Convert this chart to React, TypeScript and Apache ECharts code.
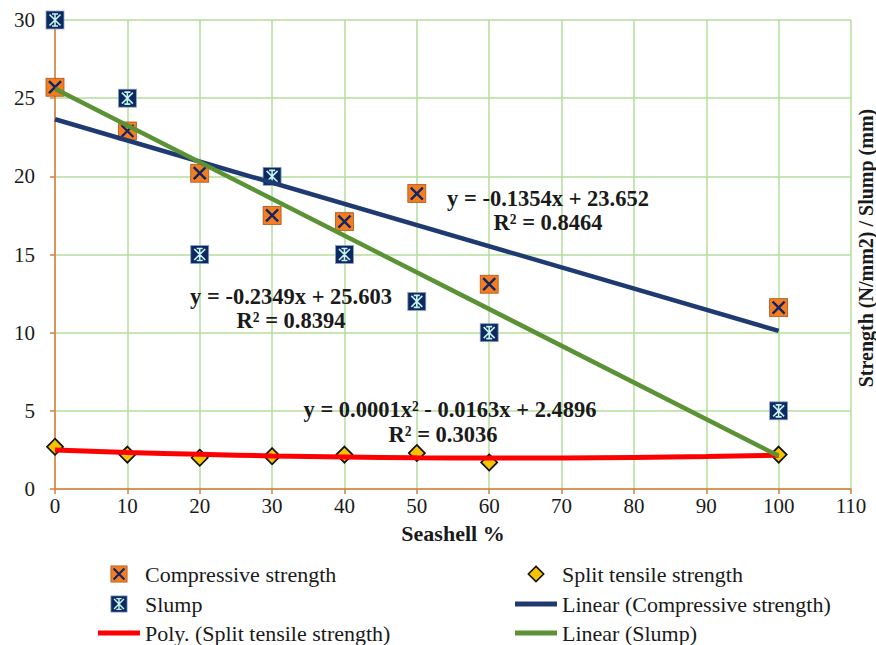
import React, { useEffect, useRef } from "react";
import * as echarts from "echarts";

const seashell = [0, 10, 20, 30, 40, 50, 60, 100];
const compressive = [25.7, 22.9, 20.2, 17.5, 17.1, 18.9, 13.1, 11.6];
const slump = [30, 25, 15, 20, 15, 12, 10, 5];
const splitTensile = [2.7, 2.2, 2.0, 2.1, 2.2, 2.3, 1.7, 2.2];

// trendline coefficients (as printed on the chart)
const linCompCoef = [23.652, -0.1354]; // c0, c1
const linSlumpCoef = [25.603, -0.2349];
const polySplitCoef = [2.4896, -0.0163, 0.00013];
const trendRange = [0, 100];
const polyXs = [0, 10, 20, 30, 40, 50, 60, 70, 80, 90, 100];

const xTicks = [0, 110, 10];
const yTicks = [0, 30, 5];

const svgUri = (s: string) => "image://data:image/svg+xml;charset=utf-8," + encodeURIComponent(s);

const compSym = svgUri(
  '<svg xmlns="http://www.w3.org/2000/svg" width="20" height="20" viewBox="0 0 20 20"><rect x="1" y="1" width="18" height="18" fill="#f27d22" stroke="#a9561a" stroke-width="0.8"/><path d="M4 4 L16 16 M16 4 L4 16" stroke="#122560" stroke-width="2.4" fill="none"/></svg>'
);
const slumpSym = svgUri(
  '<svg xmlns="http://www.w3.org/2000/svg" width="20" height="20" viewBox="0 0 20 20"><rect x="1" y="1" width="18" height="18" fill="#0c2963" stroke="#8aa4bd" stroke-width="0.8"/><path d="M4.5 4.5 L15.5 15.5 M15.5 4.5 L4.5 15.5 M10 4 L10 16 M7 4 L13 4 M7 16 L13 16" stroke="#c8f2ea" stroke-width="1.6" fill="none"/></svg>'
);
const splitSym = svgUri(
  '<svg xmlns="http://www.w3.org/2000/svg" width="20" height="20" viewBox="0 0 20 20"><polygon points="10,1.5 18.5,10 10,18.5 1.5,10" fill="#f6c300" stroke="#111" stroke-width="1.8"/></svg>'
);
const lineIcon = "path://M0,0 H42 V5 H0 Z";

const FONT = "'Liberation Serif', 'Times New Roman', serif";

export default function App() {
  const ref = useRef<HTMLDivElement>(null);
  useEffect(() => {
    if (!ref.current) return;
    const chart = echarts.init(ref.current, undefined, { renderer: "svg" });
    const pairs = (ys: number[]) => seashell.map((x, i) => [x, ys[i]]);
    const lin = (c: number[]) => trendRange.map((x) => [x, c[0] + c[1] * x]);
    const poly = polyXs.map((x) => [x, polySplitCoef[0] + polySplitCoef[1] * x + polySplitCoef[2] * x * x]);

    const legendText = { fontFamily: FONT, fontSize: 22, color: "#1a1a1a" };
    const annot = (text: string, x: number, y: number) => ({
      type: "text",
      x,
      y,
      style: {
        text,
        fill: "#1a1a1a",
        font: `bold 22.5px ${FONT}`,
        textAlign: "center",
        textVerticalAlign: "middle",
      },
      z: 100,
    });
    const leg = (name: string, left: number, top: number, icon?: string) => ({
      left,
      top,
      orient: "horizontal",
      itemWidth: 42,
      itemHeight: 18,
      padding: 0,
      textStyle: legendText,
      data: [icon ? { name, icon } : { name }],
    });

    chart.setOption({
      animation: false,
      backgroundColor: "#ffffff",
      grid: { left: 55, right: 25, top: 20, bottom: 156, containLabel: false },
      xAxis: {
        type: "value",
        min: xTicks[0],
        max: xTicks[1],
        interval: xTicks[2],
        name: "Seashell %",
        nameLocation: "middle",
        nameGap: 33,
        nameTextStyle: { fontFamily: FONT, fontSize: 22, fontWeight: "bold", color: "#1a1a1a" },
        axisLine: { onZero: false, lineStyle: { color: "#e07a3c", width: 1.5 } },
        axisTick: { show: true, length: 5, lineStyle: { color: "#e07a3c", width: 1.5 } },
        axisLabel: { fontFamily: FONT, fontSize: 21, color: "#1a1a1a", margin: 6 },
        splitLine: { show: true, lineStyle: { color: "#b4dd9c", width: 1.5 } },
      },
      yAxis: {
        type: "value",
        min: yTicks[0],
        max: yTicks[1],
        interval: yTicks[2],
        axisLine: { show: true, onZero: false, lineStyle: { color: "#e07a3c", width: 1.5 } },
        axisTick: { show: true, length: 5, lineStyle: { color: "#e07a3c", width: 1.5 } },
        axisLabel: { fontFamily: FONT, fontSize: 21, color: "#1a1a1a", margin: 20 },
        splitLine: { show: true, lineStyle: { color: "#b4dd9c", width: 1.5 } },
      },
      legend: [
        leg("Compressive strength", 98, 563),
        leg("Slump", 98, 593),
        leg("Poly. (Split tensile strength)", 98, 622, lineIcon),
        leg("Split tensile strength", 515, 563),
        leg("Linear (Compressive strength)", 515, 593, lineIcon),
        leg("Linear (Slump)", 515, 622, lineIcon),
      ],
      series: [
        {
          name: "Compressive strength",
          type: "scatter",
          symbol: compSym,
          symbolSize: 20,
          itemStyle: { opacity: 1 },
          data: pairs(compressive),
          z: 3,
        },
        {
          name: "Slump",
          type: "scatter",
          symbol: slumpSym,
          symbolSize: 20,
          itemStyle: { opacity: 1 },
          data: pairs(slump),
          z: 3,
        },
        {
          name: "Split tensile strength",
          type: "scatter",
          symbol: splitSym,
          symbolSize: 19,
          itemStyle: { opacity: 1 },
          data: pairs(splitTensile),
          z: 3,
        },
        {
          name: "Linear (Compressive strength)",
          type: "line",
          symbol: "none",
          data: lin(linCompCoef),
          lineStyle: { color: "#1f3a70", width: 4.5 },
          itemStyle: { color: "#1f3a70" },
          z: 5,
        },
        {
          name: "Poly. (Split tensile strength)",
          type: "line",
          symbol: "none",
          smooth: true,
          data: poly,
          lineStyle: { color: "#ff0000", width: 5 },
          itemStyle: { color: "#ff0000" },
          z: 5,
        },
        {
          name: "Linear (Slump)",
          type: "line",
          symbol: "none",
          data: lin(linSlumpCoef),
          lineStyle: { color: "#5b9236", width: 4.5 },
          itemStyle: { color: "#5b9236" },
          z: 6,
        },
      ],
      graphic: [
        annot("y = -0.1354x + 23.652", 548, 198),
        annot("R² = 0.8464", 548, 222),
        annot("y = -0.2349x + 25.603", 291, 296),
        annot("R² = 0.8394", 291, 320),
        annot("y = 0.0001x² - 0.0163x + 2.4896", 450, 409),
        annot("R² = 0.3036", 443, 434),
        {
          type: "text",
          x: 866,
          y: 248,
          rotation: Math.PI / 2,
          style: {
            text: "Strength (N/mm2) / Slump (mm)",
            fill: "#1a1a1a",
            font: `bold 20px ${FONT}`,
            textAlign: "center",
            textVerticalAlign: "middle",
          },
        },
      ],
    });
    return () => chart.dispose();
  }, []);
  return <div ref={ref} style={{ width: 876, height: 645, position: "absolute", left: 0, top: 0 }} />;
}
